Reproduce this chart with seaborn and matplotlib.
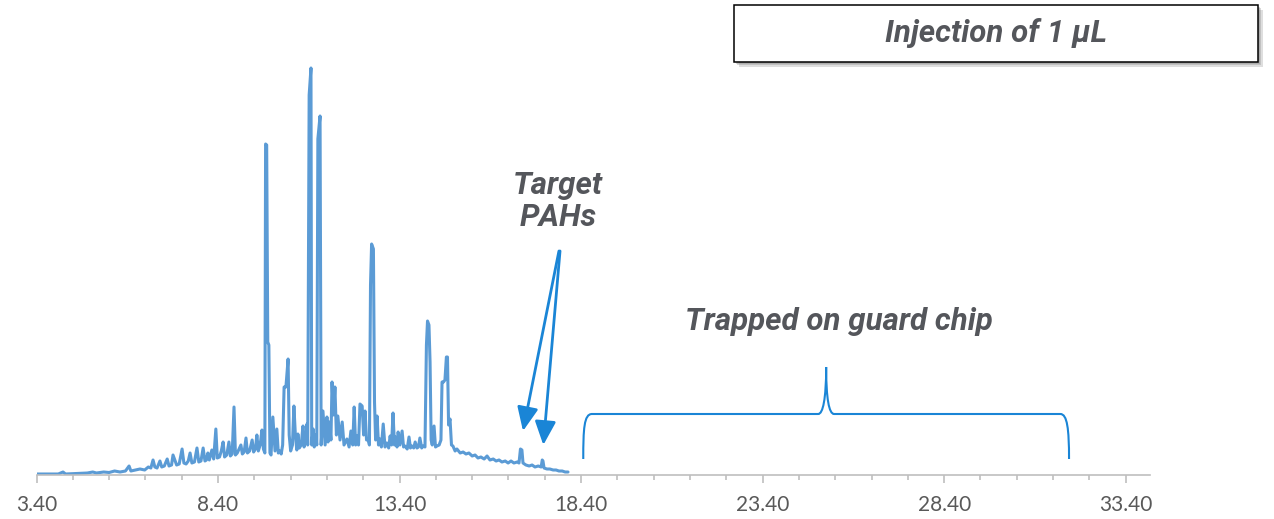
import matplotlib
matplotlib.use("Agg")
import matplotlib.pyplot as plt
import matplotlib.patheffects as pe
from matplotlib.patches import Rectangle, PathPatch
from matplotlib.path import Path
from matplotlib.ticker import FixedLocator
import numpy as np
import pandas as pd
import seaborn as sns

sns.set_theme(style="white")
plt.rcParams["font.family"] = ["Roboto", "DejaVu Sans"]

# Total ion chromatogram (retention time in min, abundance in arbitrary units)
retention_time = [
    3.40, 3.70, 4.00, 4.13, 4.20, 4.50, 4.80, 4.95, 5.05, 5.25, 5.40, 5.55, 5.70, 5.85,
    5.95, 6.00, 6.12, 6.25, 6.38, 6.48, 6.55, 6.61, 6.66, 6.72, 6.80, 6.85, 6.92, 7.00,
    7.05, 7.12, 7.16, 7.26, 7.33, 7.41, 7.46, 7.52, 7.58, 7.63, 7.68, 7.75, 7.82, 7.87,
    7.93, 7.99, 8.04, 8.08, 8.12, 8.16, 8.23, 8.28, 8.34, 8.38, 8.44, 8.49, 8.54, 8.58,
    8.64, 8.70, 8.74, 8.79, 8.84, 8.88, 8.93, 8.98, 9.03, 9.07, 9.12, 9.17, 9.21, 9.27,
    9.34, 9.38, 9.43, 9.47, 9.51, 9.56, 9.61, 9.65, 9.69, 9.71, 9.74, 9.77, 9.80, 9.83,
    9.86, 9.91, 9.97, 10.02, 10.06, 10.10, 10.14, 10.18, 10.22, 10.27, 10.33, 10.36, 10.40,
    10.45, 10.49, 10.53, 10.57, 10.60, 10.64, 10.69, 10.74, 10.77, 10.81, 10.85, 10.87,
    10.91, 10.96, 10.98, 11.02, 11.05, 11.09, 11.12, 11.15, 11.21, 11.24, 11.29, 11.35,
    11.40, 11.43, 11.47, 11.51, 11.54, 11.58, 11.62, 11.66, 11.70, 11.76, 11.82, 11.87,
    11.91, 11.95, 12.01, 12.06, 12.11, 12.15, 12.19, 12.23, 12.27, 12.31, 12.37, 12.41,
    12.45, 12.49, 12.53, 12.57, 12.60, 12.63, 12.68, 12.71, 12.74, 12.78, 12.82, 12.86,
    12.90, 12.95, 13.00, 13.05, 13.10, 13.14, 13.18, 13.22, 13.26, 13.29, 13.33, 13.36,
    13.41, 13.47, 13.51, 13.55, 13.61, 13.66, 13.70, 13.74, 13.79, 13.83, 13.88, 13.92,
    13.96, 14.01, 14.05, 14.10, 14.14, 14.17, 14.21, 14.24, 14.27, 14.30, 14.35, 14.39,
    14.43, 14.49, 14.54, 14.57, 14.61, 14.65, 14.69, 14.72, 14.75, 14.79, 14.83, 14.87,
    14.93, 14.98, 15.07, 15.15, 15.23, 15.31, 15.40, 15.48, 15.56, 15.64, 15.73, 15.81,
    15.89, 15.98, 16.06, 16.14, 16.22, 16.31, 16.39, 16.47, 16.55, 16.64, 16.69, 16.73,
    16.77, 16.80, 16.88, 16.97, 17.05, 17.13, 17.22, 17.30, 17.33, 17.35, 17.38, 17.46,
    17.54, 17.63, 17.71, 17.79, 17.88, 17.96, 18.04,
]
abundance = [
    1, 1, 1, 3, 1, 1.5, 2, 3, 2, 3, 2.5, 4, 3, 4,
    9, 4, 5, 6, 5, 8, 7, 15, 8, 7, 14, 8, 9, 16,
    9, 10, 20, 10, 11, 26, 12, 11, 14, 22, 12, 13, 27, 13,
    14, 27, 14, 15, 22, 15, 25, 16, 46, 17, 18, 24, 33, 18,
    20, 33, 19, 21, 68, 20, 22, 26, 30, 21, 23, 37, 22, 24,
    35, 23, 26, 40, 24, 30, 45, 26, 22, 331, 330, 133, 130, 22,
    20, 58, 24, 46, 22, 24, 21, 30, 88, 88, 116, 40, 24,
    30, 69, 40, 25, 41, 27, 30, 49, 28, 34, 51, 30,
    380, 407, 30, 46, 28, 40, 30, 336, 359, 30, 64, 30,
    58, 33, 53, 35, 93, 60, 88, 40, 59, 35, 53, 30,
    33, 36, 28, 44, 30, 68, 30, 39, 30, 71, 69, 40,
    64, 35, 36, 30, 190, 231, 226, 73, 35, 59, 30, 36,
    28, 51, 28, 32, 27, 39, 30, 62, 30, 38, 28, 43,
    30, 44, 28, 29, 26, 38, 27, 29, 27, 33, 27, 28,
    37, 27, 29, 28, 130, 154, 150, 113, 35, 30, 49, 28,
    29, 30, 35, 93, 93, 95, 118, 118, 50, 56, 30, 29,
    24, 26, 22, 23, 21, 22, 19, 20, 17, 18, 16, 19,
    15, 16, 14, 15, 13, 14, 12, 14, 12, 13, 12, 26,
    25, 12, 10, 9, 10, 8, 9, 8, 15, 14, 7, 6,
    6, 5, 5, 4, 4, 3, 3,
]

major_ticks = [3.40, 8.40, 13.40, 18.40, 23.40, 28.40, 33.40]
tick_labels = ["3.40", "8.40", "13.40", "18.40", "23.40", "28.40", "33.40"]

trace_color = "#5B9BD5"
accent = "#1A85D6"
text_gray = "#54565B"
axis_gray = "#BFBFBF"

W, H = 1274, 519
fig = plt.figure(figsize=(W / 100, H / 100), dpi=100)
fig.patch.set_facecolor("white")
ax = fig.add_axes([36.5 / W, 44 / H, 1113.5 / W, 455 / H])

df = pd.DataFrame({"rt": retention_time, "abundance": abundance})
sns.lineplot(data=df, x="rt", y="abundance", ax=ax, color=trace_color,
             lw=2.2, estimator=None, sort=False, legend=False)

ax.set_xlim(3.40, 34.07)
ax.set_ylim(0, 455)
ax.set_xlabel("")
ax.set_ylabel("")
for side in ("top", "left", "right"):
    ax.spines[side].set_visible(False)
ax.spines["bottom"].set_color(axis_gray)
ax.spines["bottom"].set_linewidth(1.2)
ax.set_yticks([])

ax.xaxis.set_major_locator(FixedLocator(major_ticks))
ax.set_xticklabels(tick_labels, fontfamily="Lato", fontsize=15, color="#595959")
ax.xaxis.set_minor_locator(FixedLocator(np.arange(4.4, 34.0, 1.0)))
ax.tick_params(axis="x", which="major", bottom=True, length=5.5, width=1.2,
               color=axis_gray, pad=9)
ax.tick_params(axis="x", which="minor", bottom=True, length=3.6, width=1.2,
               color=axis_gray)

# Title box with soft drop shadow
box = Rectangle((734 / W, 1 - 62 / H), 524 / W, 57 / H, transform=fig.transFigure,
                facecolor="white", edgecolor="black", lw=1.1, zorder=5)
box.set_path_effects([
    pe.SimplePatchShadow(offset=(1.5, -1.5), shadow_rgbFace="#7f7f7f", alpha=0.3),
    pe.SimplePatchShadow(offset=(2.5, -2.5), shadow_rgbFace="#7f7f7f", alpha=0.3),
    pe.SimplePatchShadow(offset=(3.5, -3.5), shadow_rgbFace="#7f7f7f", alpha=0.25),
    pe.Normal(),
])
fig.add_artist(box)

label_kw = dict(fontsize=22.5, fontweight="bold", fontstyle="italic", color=text_gray,
                ha="center", va="center")
fig.text(996 / W, 1 - 33.5 / H, "Injection of 1 \u03bcL", zorder=6, **label_kw)
fig.text(558 / W, 1 - 201.5 / H, "Target\nPAHs", linespacing=1.15, **label_kw)
fig.text(839 / W, 1 - 321 / H, "Trapped on guard chip", **label_kw)

# Arrows pointing at the target PAH peaks
arrow_style = "-|>,head_length=0.9,head_width=0.4"
for tip, start in [((16.80, 44), (17.79, 224)), ((17.36, 30), (17.82, 224))]:
    ax.annotate("", xy=tip, xytext=start,
                arrowprops=dict(arrowstyle=arrow_style, color=accent, lw=2.0,
                                shrinkA=0, shrinkB=0, mutation_scale=16),
                annotation_clip=False)

# Curly brace spanning the late-eluting region
verts = [
    (18.46, 16), (18.46, 46), (18.48, 61), (18.70, 61),
    (24.93, 61),
    (25.06, 61), (25.15, 76), (25.15, 108),
    (25.15, 76), (25.23, 61), (25.37, 61),
    (31.60, 61),
    (31.79, 61), (31.84, 46), (31.84, 16),
]
codes = [Path.MOVETO, Path.CURVE4, Path.CURVE4, Path.CURVE4,
         Path.LINETO,
         Path.CURVE4, Path.CURVE4, Path.CURVE4,
         Path.CURVE4, Path.CURVE4, Path.CURVE4,
         Path.LINETO,
         Path.CURVE4, Path.CURVE4, Path.CURVE4]
ax.add_patch(PathPatch(Path(verts, codes), facecolor="none", edgecolor=accent,
                       lw=1.5, clip_on=False))

fig.savefig("out.png", dpi=100, facecolor="white")
